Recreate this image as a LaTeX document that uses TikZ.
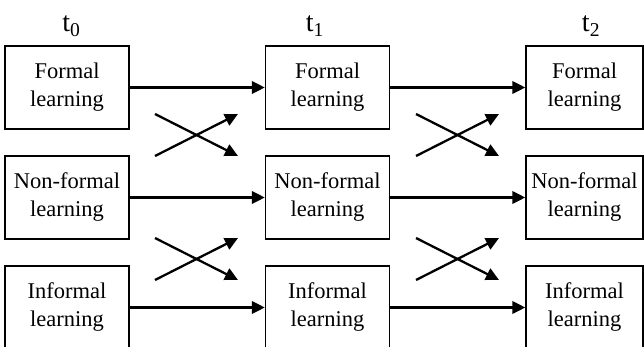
\documentclass[tikz,border=0pt]{standalone}
\usepackage{fontspec}
\setmainfont{Liberation Serif}
\usetikzlibrary{arrows.meta}

\begin{document}
\begin{tikzpicture}[x=1pt, y=-1pt, line join=miter,
    learnbox/.style={draw, line width=1.4pt, minimum width=124pt, minimum height=83pt,
        inner sep=0pt, align=center, font=\fontsize{22.5}{28}\selectfont,
        execute at begin node={\rule{0pt}{21pt}}},
    flow/.style={line width=2.3pt, -{Triangle[length=13pt,width=12.5pt]}},
    timelabel/.style={anchor=base, font=\fontsize{28}{30}\selectfont}]

    \useasboundingbox (0,0) rectangle (644,347);
    \clip (0,0) rectangle (644,347);

    % time points
    \node[timelabel] (t0) at (71.5,32) {t\textsubscript{0}};
    \node[timelabel] (t1) at (315,32) {t\textsubscript{1}};
    \node[timelabel] (t2) at (591,32) {t\textsubscript{2}};

    % learning boxes
    \node[learnbox] (f0) at (67,87.5) {Formal\\learning};
    \node[learnbox] (n0) at (67,197.5) {Non-formal\\learning};
    \node[learnbox] (i0) at (67,307.5) {Informal\\learning};

    \node[learnbox] (f1) at (327.5,87.5) {Formal\\learning};
    \node[learnbox] (n1) at (327.5,197.5) {Non-formal\\learning};
    \node[learnbox] (i1) at (327.5,307.5) {Informal\\learning};

    \node[learnbox, minimum width=117pt] (f2) at (584.5,87.5) {Formal\\learning};
    \node[learnbox, minimum width=117pt] (n2) at (584.5,197.5) {Non-formal\\learning};
    \node[learnbox, minimum width=117pt] (i2) at (584.5,307.5) {Informal\\learning};

    % same kind of learning
    \draw[flow] (f0) -- (f1);
    \draw[flow] (n0) -- (n1);
    \draw[flow] (i0) -- (i1);
    \draw[flow] (f1) -- (f2);
    \draw[flow] (n1) -- (n2);
    \draw[flow] (i1) -- (i2);

    % switching between kinds
    \coordinate (a1) at (155,114);  \coordinate (b1) at (238,156);
    \coordinate (c1) at (155,156);  \coordinate (d1) at (238,114);
    \coordinate (a2) at (155,238);  \coordinate (b2) at (238,280);
    \coordinate (c2) at (155,280);  \coordinate (d2) at (238,238);
    \coordinate (a3) at (416,114);  \coordinate (b3) at (499,156);
    \coordinate (c3) at (416,156);  \coordinate (d3) at (499,114);
    \coordinate (a4) at (416,238);  \coordinate (b4) at (499,280);
    \coordinate (c4) at (416,280);  \coordinate (d4) at (499,238);

    \draw[flow] (a1) -- (b1);
    \draw[flow] (c1) -- (d1);
    \draw[flow] (a2) -- (b2);
    \draw[flow] (c2) -- (d2);
    \draw[flow] (a3) -- (b3);
    \draw[flow] (c3) -- (d3);
    \draw[flow] (a4) -- (b4);
    \draw[flow] (c4) -- (d4);

\end{tikzpicture}
\end{document}
